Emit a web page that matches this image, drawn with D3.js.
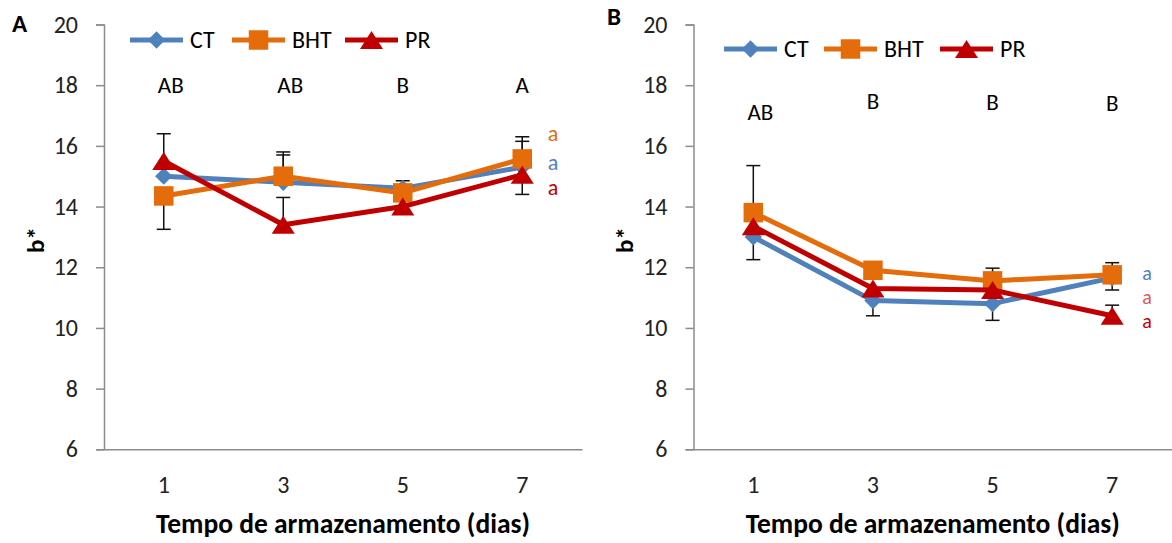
<!DOCTYPE html>
<meta charset="utf-8">
<style type="text/css">
  body {
    margin: 0;
    background: #fff;
    font-family: Carlito, Calibri, Lato, sans-serif;
  }
  .axis path, .axis line {
    stroke: #8c8c8c;
    stroke-width: 1.5px;
  }
  .axis text {
    font-size: 24px;
    fill: #222;
    font-family: Carlito, Calibri, Lato, sans-serif;
  }
</style>
<body></body>
<script src="https://cdn.jsdelivr.net/npm/d3@7"></script>
<script>
  // ---- data ----
  var days = ["1", "3", "5", "7"];
  var yTicks = [6, 8, 10, 12, 14, 16, 18, 20];
  var seriesNames = ["CT", "BHT", "PR"];

  // panel A
  var ctA = [15.0, 14.8, 14.6, 15.3];
  var bhtA = [14.35, 15.0, 14.45, 15.57];
  var prA = [15.5, 13.4, 14.0, 15.05];
  // error bars [up, down]
  var ctErrA = [[0, 0], [0.9, 0], [0.25, 0], [0.85, 0]];
  var bhtErrA = [[0, 1.1], [0.8, 0], [0, 0], [0.73, 0]];
  var prErrA = [[0.9, 0], [0.9, 0], [0, 0], [0, 0.65]];
  var lettersA = ["AB", "AB", "B", "A"];
  var lettersAy = [18, 18, 18, 18];
  var sigA = [["a", "BHT", 16.4], ["a", "CT", 15.45], ["a", "PR", 14.6]];

  // panel B
  var ctB = [13.0, 10.9, 10.8, 11.65];
  var bhtB = [13.8, 11.9, 11.55, 11.75];
  var prB = [13.35, 11.3, 11.25, 10.4];
  var ctErrB = [[0, 0.75], [0, 0.5], [0, 0.55], [0, 0.4]];
  var bhtErrB = [[1.55, 0], [0, 0], [0.42, 0], [0.4, 0]];
  var prErrB = [[0, 0], [0, 0], [0, 0], [0.35, 0]];
  var lettersB = ["AB", "B", "B", "B"];
  var lettersBy = [17.12, 17.48, 17.45, 17.42];
  var sigB = [["a", "CT", 11.8], ["a", "PRlight", 11.0], ["a", "PR", 10.22]];

  var colors = { CT: "#4f81bd", BHT: "#e46c0a", PR: "#c00000", PRlight: "#d9585a" };

  // square-on-corner diamond like Excel
  var diamond = {
    draw: function(ctx, size) {
      var r = Math.sqrt(size / 2);
      ctx.moveTo(0, -r); ctx.lineTo(r, 0); ctx.lineTo(0, r); ctx.lineTo(-r, 0); ctx.closePath();
    }
  };
  var tri = {
    draw: function(ctx, size) {
      var w = Math.sqrt(size * 4 / Math.sqrt(3)) / 2, h = w * Math.sqrt(3) * 0.9;
      ctx.moveTo(0, -h / 2); ctx.lineTo(w, h / 2); ctx.lineTo(-w, h / 2); ctx.closePath();
    }
  };
  var symbols = {
    CT: d3.symbol().type(diamond).size(150),
    BHT: d3.symbol().type(d3.symbolSquare).size(380),
    PR: d3.symbol().type(tri).size(230)
  };

  var svg = d3.select("body").append("svg")
    .attr("width", 1172)
    .attr("height", 543);

  function drawPanel(p) {
    var x = d3.scaleBand().domain(days).range([p.x0, p.x1]);
    var y = d3.scaleLinear().domain([6, 20]).range([449.3, 24.5]);
    var cx = function(d) { return x(d) + x.bandwidth() / 2; };

    var g = svg.append("g");

    g.append("g")
      .attr("class", "axis")
      .attr("transform", "translate(" + p.x0 + ",0)")
      .call(d3.axisLeft(y).tickValues(yTicks).tickSize(8).tickSizeOuter(8).tickPadding(18));

    g.append("g")
      .attr("class", "axis")
      .attr("transform", "translate(0,449.3)")
      .call(d3.axisBottom(x).tickSize(0).tickSizeOuter(0).tickPadding(27));

    // panel letter
    g.append("text")
      .attr("x", p.labelX).attr("y", p.labelY)
      .style("font-weight", "bold").style("font-size", "25px")
      .text(p.label);

    // y label
    g.append("text")
      .attr("transform", "translate(" + p.yLabX + ",240) rotate(-90)")
      .attr("text-anchor", "middle")
      .style("font-weight", "bold").style("font-size", "25px")
      .text("b*");

    // x label
    g.append("text")
      .attr("x", (p.x0 + p.x1) / 2).attr("y", 533)
      .attr("text-anchor", "middle")
      .style("font-weight", "bold").style("font-size", "27.5px")
      .text("Tempo de armazenamento (dias)");

    // error bars behind series
    p.series.forEach(function(s) {
      s.err.forEach(function(e, i) {
        var xc = cx(days[i]);
        [[e[0], 1], [e[1], -1]].forEach(function(ed) {
          if (!ed[0]) return;
          var yEnd = y(s.values[i] + ed[1] * ed[0]);
          g.append("line").attr("x1", xc).attr("x2", xc)
            .attr("y1", y(s.values[i])).attr("y2", yEnd)
            .attr("stroke", "#111").attr("stroke-width", 1.5);
          g.append("line").attr("x1", xc - 7).attr("x2", xc + 7)
            .attr("y1", yEnd).attr("y2", yEnd)
            .attr("stroke", "#111").attr("stroke-width", 1.5);
        });
      });
    });

    var line = d3.line()
      .x(function(d, i) { return cx(days[i]); })
      .y(function(d) { return y(d); });

    p.series.forEach(function(s) {
      g.append("path")
        .datum(s.values)
        .attr("d", line)
        .attr("fill", "none")
        .attr("stroke", colors[s.name])
        .attr("stroke-width", 5)
        .attr("stroke-linejoin", "round");
      g.selectAll(null)
        .data(s.values)
        .enter().append("path")
        .attr("d", symbols[s.name])
        .attr("transform", function(d, i) { return "translate(" + cx(days[i]) + "," + y(d) + ")"; })
        .attr("fill", colors[s.name]);
    });

    // significance letters over categories
    g.selectAll(null)
      .data(p.letters)
      .enter().append("text")
      .attr("x", function(d, i) { return cx(days[i]) + (d == "AB" ? 7 : 0); })
      .attr("y", function(d, i) { return y(p.lettersY[i]); })
      .attr("dy", "0.35em")
      .attr("text-anchor", "middle")
      .style("font-size", "23px")
      .text(function(d) { return d; });

    g.selectAll(null)
      .data(p.sig)
      .enter().append("text")
      .attr("x", p.sigX)
      .attr("y", function(d) { return y(d[2]); })
      .attr("dy", "0.32em")
      .attr("text-anchor", "middle")
      .style("font-size", p.sigSize)
      .attr("fill", function(d) { return colors[d[1]]; })
      .text(function(d) { return d[0]; });

    // legend
    var lx = p.legX;
    seriesNames.forEach(function(name, i) {
      var x0 = lx + p.legOffsets[i];
      g.append("line")
        .attr("x1", x0).attr("x2", x0 + 53)
        .attr("y1", p.legY).attr("y2", p.legY)
        .attr("stroke", colors[name]).attr("stroke-width", 5);
      g.append("path")
        .attr("d", symbols[name])
        .attr("transform", "translate(" + (x0 + 26.5) + "," + p.legY + ")")
        .attr("fill", colors[name]);
      g.append("text")
        .attr("x", x0 + 60).attr("y", p.legY)
        .attr("dy", "0.35em")
        .style("font-size", "24px")
        .text(name);
    });
  }

  drawPanel({
    x0: 104, x1: 582, label: "A", labelX: 12, labelY: 32, yLabX: 44,
    series: [
      { name: "CT", values: ctA, err: ctErrA },
      { name: "BHT", values: bhtA, err: bhtErrA },
      { name: "PR", values: prA, err: prErrA }
    ],
    letters: lettersA, lettersY: lettersAy, sig: sigA, sigX: 553, sigSize: "22px",
    legX: 130, legY: 40, legOffsets: [0, 102, 215]
  });

  drawPanel({
    x0: 693.5, x1: 1172, label: "B", labelX: 607, labelY: 25, yLabX: 633,
    series: [
      { name: "CT", values: ctB, err: ctErrB },
      { name: "BHT", values: bhtB, err: bhtErrB },
      { name: "PR", values: prB, err: prErrB }
    ],
    letters: lettersB, lettersY: lettersBy, sig: sigB, sigX: 1147, sigSize: "20px",
    legX: 724, legY: 49, legOffsets: [0, 100, 216]
  });
</script>
